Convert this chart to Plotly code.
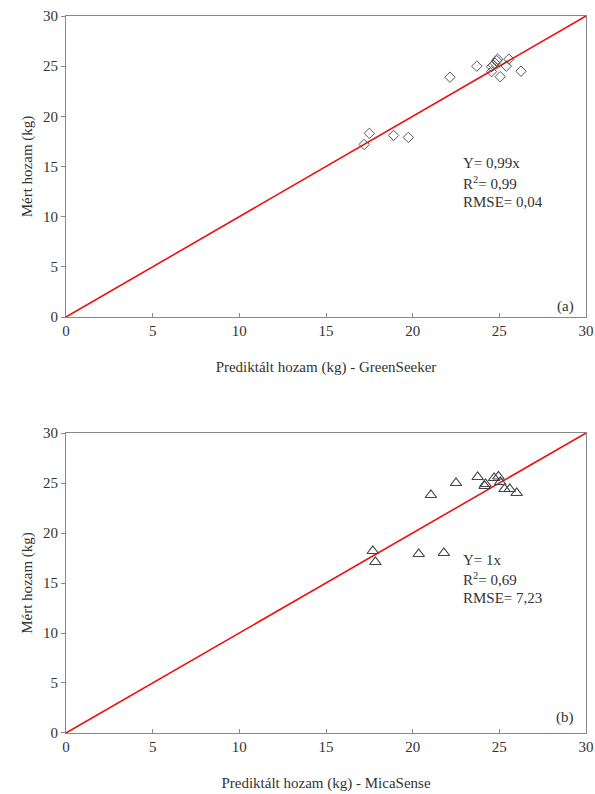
import plotly.graph_objects as go

# Panel (a) GreenSeeker
gs_pred = [17.2, 17.5, 18.9, 19.75, 22.15, 23.7, 24.55, 24.55, 24.65, 24.75, 24.85, 24.9, 25.05, 25.4, 25.55, 26.25]
gs_meas = [17.2, 18.3, 18.1, 17.9, 23.9, 25.0, 24.45, 24.95, 25.1, 25.3, 25.55, 25.7, 23.95, 25.0, 25.7, 24.5]

# Panel (b) MicaSense
ms_pred = [17.7, 17.85, 20.35, 21.8, 21.05, 22.5, 23.75, 24.2, 24.15, 24.7, 24.95, 25.05, 25.3, 25.6, 26.0]
ms_meas = [18.2, 17.1, 17.9, 18.0, 23.8, 25.0, 25.6, 24.9, 24.7, 25.5, 25.65, 25.1, 24.4, 24.4, 24.0]

line_x = [0, 30]
line_y = [0, 30]
tick_vals = [0, 5, 10, 15, 20, 25, 30]

stats_a = ["Y= 0,99x", "R<sup>2</sup>= 0,99", "RMSE= 0,04"]
stats_b = ["Y= 1x", "R<sup>2</sup>= 0,69", "RMSE= 7,23"]

FONT = "Liberation Serif"
TXT = "#333333"

fig = go.Figure()
fig.add_trace(go.Scatter(x=line_x, y=line_y, mode="lines", line=dict(color="#ee1111", width=1.6),
                         xaxis="x", yaxis="y", showlegend=False))
fig.add_trace(go.Scatter(x=gs_pred, y=gs_meas, mode="markers",
                         marker=dict(symbol="diamond-open", size=8, color="#555555", line=dict(width=1)),
                         xaxis="x", yaxis="y", showlegend=False))
fig.add_trace(go.Scatter(x=line_x, y=line_y, mode="lines", line=dict(color="#ee1111", width=1.6),
                         xaxis="x2", yaxis="y2", showlegend=False))
fig.add_trace(go.Scatter(x=ms_pred, y=ms_meas, mode="markers",
                         marker=dict(symbol="triangle-up-open", size=10, color="#444444", line=dict(width=1.2)),
                         xaxis="x2", yaxis="y2", showlegend=False))

xcommon = dict(range=[0, 30], tickvals=tick_vals, ticks="inside", ticklen=4, tickcolor="#888888",
               showline=True, linecolor="#888888", linewidth=1, mirror=True, showgrid=False,
               zeroline=False, automargin=False, ticklabeloverflow="allow",
               tickfont=dict(family=FONT, size=15, color=TXT))
ycommon = dict(range=[0, 30], tickvals=tick_vals, ticks="outside", ticklen=4, tickcolor="#888888",
               showline=True, linecolor="#888888", linewidth=1, mirror=True, showgrid=False,
               zeroline=False, automargin=False, ticklabeloverflow="allow",
               tickfont=dict(family=FONT, size=15, color=TXT))

fig.update_layout(
    width=595, height=794,
    margin=dict(l=66, r=9, t=16, b=61),
    paper_bgcolor="white", plot_bgcolor="white",
    font=dict(family=FONT, color=TXT),
    xaxis=dict(**xcommon, domain=[0, 1], anchor="y",
               title=dict(text="Prediktált hozam (kg) - GreenSeeker", font=dict(family=FONT, size=15, color=TXT), standoff=23)),
    yaxis=dict(**ycommon, domain=[0.5802, 1], anchor="x",
               title=dict(text="Mért hozam (kg)", font=dict(family=FONT, size=15, color=TXT), standoff=6)),
    xaxis2=dict(**xcommon, domain=[0, 1], anchor="y2",
                title=dict(text="Prediktált hozam (kg) - MicaSense", font=dict(family=FONT, size=15, color=TXT), standoff=23)),
    yaxis2=dict(**ycommon, domain=[0, 0.4184], anchor="x2",
                title=dict(text="Mért hozam (kg)", font=dict(family=FONT, size=15, color=TXT), standoff=6)),
)

for i, t in enumerate(stats_a):
    fig.add_annotation(x=22.8, y=15.3 - i * 1.9, xref="x", yref="y", text=t, showarrow=False,
                       xanchor="left", yanchor="middle", font=dict(family=FONT, size=15, color=TXT))
for i, t in enumerate(stats_b):
    fig.add_annotation(x=22.8, y=17.3 - i * 1.9, xref="x2", yref="y2", text=t, showarrow=False,
                       xanchor="left", yanchor="middle", font=dict(family=FONT, size=15, color=TXT))

fig.add_annotation(x=29.4, y=1.0, xref="x", yref="y", text="(a)", showarrow=False,
                   xanchor="right", yanchor="middle", font=dict(family=FONT, size=15, color=TXT))
fig.add_annotation(x=29.4, y=1.5, xref="x2", yref="y2", text="(b)", showarrow=False,
                   xanchor="right", yanchor="middle", font=dict(family=FONT, size=15, color=TXT))

fig.write_html("out.html", config={"displayModeBar": False},
               post_script="document.body.style.margin='0';document.body.style.overflow='hidden';")
